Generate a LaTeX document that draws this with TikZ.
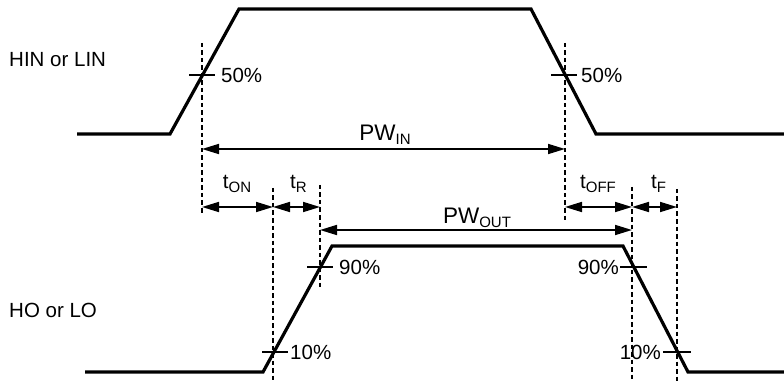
\documentclass[tikz,border=0pt]{standalone}
\usepackage{fontspec}
\setmainfont{Liberation Sans}
\usetikzlibrary{arrows.meta}
\newcommand\lowsub[1]{\raisebox{-4pt}{\fontsize{15}{15}\selectfont #1}}
\tikzset{
  wave/.style={line width=3.2pt, line join=miter},
  guide/.style={line width=1.5pt, dash pattern=on 4.5pt off 3pt},
  tick/.style={line width=1.4pt},
  dim/.style={line width=1.7pt, {Triangle[length=17pt,width=10pt]}-{Triangle[length=17pt,width=10pt]}},
  lbl/.style={inner sep=0pt, font=\fontsize{20.5}{24}\selectfont},
  pwlbl/.style={inner sep=0pt, font=\fontsize{22.5}{26}\selectfont},
}
\begin{document}
\begin{tikzpicture}[x=1pt,y=-1pt]
\useasboundingbox (0,0) rectangle (784,382);
% waveforms
\draw[wave] (77,134) -- (170,134) -- (239,9) -- (531,9) -- (596,134) -- (784,134);
\draw[wave] (85,372) -- (263,372) -- (332,246) -- (623,246) -- (688,372) -- (784,372);
% guide line end points
\coordinate (g1t) at (202,43);  \coordinate (g1b) at (202,214);
\coordinate (g2t) at (565,43);  \coordinate (g2b) at (565,220);
\coordinate (g3t) at (273,188); \coordinate (g3b) at (273,382);
\coordinate (g4t) at (320,185); \coordinate (g4b) at (320,290);
\coordinate (g5t) at (632,187); \coordinate (g5b) at (632,382);
\coordinate (g6t) at (677,189); \coordinate (g6b) at (677,382);
\draw[guide] (g1t) -- (g1b);
\draw[guide] (g2t) -- (g2b);
\draw[guide] (g3t) -- (g3b);
\draw[guide] (g4t) -- (g4b);
\draw[guide] (g5t) -- (g5b);
\draw[guide] (g6t) -- (g6b);
% ticks
\coordinate (k1a) at (189,75);  \coordinate (k1b) at (215,75);
\coordinate (k2a) at (551,75);  \coordinate (k2b) at (577,75);
\coordinate (k3a) at (307,267); \coordinate (k3b) at (333,267);
\coordinate (k4a) at (620,267); \coordinate (k4b) at (647,267);
\coordinate (k5a) at (262,352); \coordinate (k5b) at (288,352);
\coordinate (k6a) at (663,352); \coordinate (k6b) at (691,352);
\draw[tick] (k1a) -- (k1b);
\draw[tick] (k2a) -- (k2b);
\draw[tick] (k3a) -- (k3b);
\draw[tick] (k4a) -- (k4b);
\draw[tick] (k5a) -- (k5b);
\draw[tick] (k6a) -- (k6b);
% dimension arrows
\coordinate (pwi1) at (202,149); \coordinate (pwi2) at (565,149);
\coordinate (pwo1) at (320,230); \coordinate (pwo2) at (632,230);
\coordinate (ton1) at (202,207); \coordinate (ton2) at (273,207);
\coordinate (tr2) at (320,207);
\coordinate (toff1) at (565,207); \coordinate (toff2) at (632,207);
\coordinate (tf2) at (677,207);
\draw[dim] (pwi1) -- (pwi2);
\draw[dim] (pwo1) -- (pwo2);
\draw[dim] (ton1) -- (ton2);
\draw[dim] (ton2) -- (tr2);
\draw[dim] (toff1) -- (toff2);
\draw[dim] (toff2) -- (tf2);
% labels
\node[lbl, anchor=base west] (hin) at (9,67) {HIN or LIN};
\node[lbl, anchor=base west] (ho) at (9,317) {HO or LO};
\node[lbl, anchor=base west] (p50a) at (221,82.5) {50\%};
\node[lbl, anchor=base west] (p50b) at (581,82.5) {50\%};
\node[lbl, anchor=base west] (p90a) at (339,274.5) {90\%};
\node[lbl, anchor=base east] (p90b) at (619,274.5) {90\%};
\node[lbl, anchor=base west] (p10a) at (290,359.5) {10\%};
\node[lbl, anchor=base east] (p10b) at (661,359.5) {10\%};
\node[pwlbl, anchor=base] (lpwi) at (385,141) {PW\lowsub{IN}};
\node[pwlbl, anchor=base] (lpwo) at (477,223) {PW\lowsub{OUT}};
\node[lbl, anchor=base] (lton) at (237,189) {t\lowsub{ON}};
\node[lbl, anchor=base] (ltr) at (298.5,189) {t\lowsub{R}};
\node[lbl, anchor=base] (ltoff) at (598,189) {t\lowsub{OFF}};
\node[lbl, anchor=base] (ltf) at (658.5,189) {t\lowsub{F}};
\end{tikzpicture}
\end{document}
